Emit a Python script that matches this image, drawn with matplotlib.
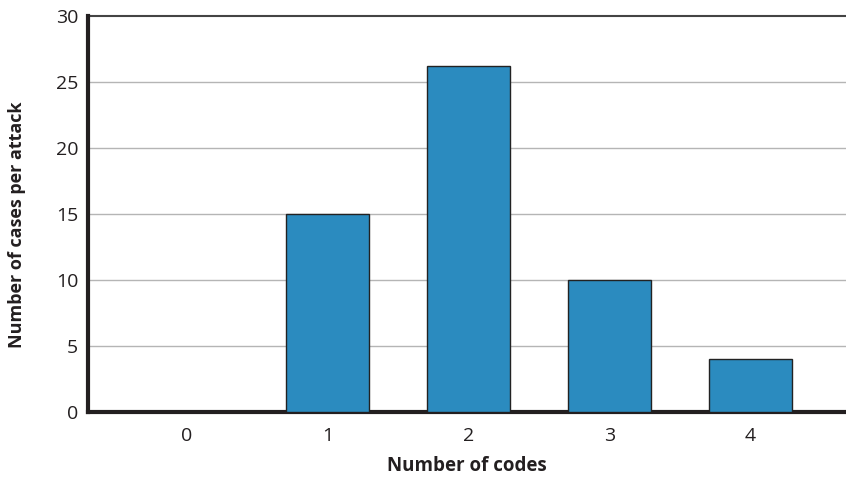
import matplotlib
matplotlib.use("Agg")
import matplotlib.pyplot as plt

categories = ["0", "1", "2", "3", "4"]
values = [0, 15, 26.2, 10, 4]
yticks = [0, 5, 10, 15, 20, 25, 30]

plt.rcParams['font.family'] = ['Open Sans', 'DejaVu Sans']

fig = plt.figure(figsize=(8.46, 4.78), dpi=100)
ax = fig.add_axes([0.104, 0.138, 0.896, 0.8285])

x = list(range(len(categories)))
ax.bar(x, values, width=0.59, color="#2b8bbf", edgecolor="#222222", linewidth=1.0, zorder=3)

ax.set_xlim(-0.70, 4.68)
ax.set_ylim(0, 30)
ax.set_yticks(yticks)
ax.set_xticks(x)
ax.set_xticklabels(categories)

for t in yticks[1:-1]:
    ax.axhline(t, color="#b5b5b5", linewidth=1.0, zorder=1)
ax.axhline(30, color="#444444", linewidth=1.5, zorder=1, clip_on=False)

for s in ["top", "right"]:
    ax.spines[s].set_visible(False)
ax.spines["left"].set_linewidth(3)
ax.spines["bottom"].set_linewidth(3)
ax.spines["left"].set_color("#231f20")
ax.spines["bottom"].set_color("#231f20")

ax.tick_params(axis="both", length=0, labelsize=14, colors="#231f20")
ax.tick_params(axis="x", pad=11)
ax.tick_params(axis="y", pad=7)

ax.set_xlabel("Number of codes", fontsize=13.5, fontweight="bold", labelpad=8, color="#231f20")
ax.set_ylabel("Number of cases per attack", fontsize=13, fontweight="bold", color="#231f20",
              va="center")
ax.yaxis.set_label_coords(-0.094, 0.472)

fig.savefig("out.png", dpi=100)
